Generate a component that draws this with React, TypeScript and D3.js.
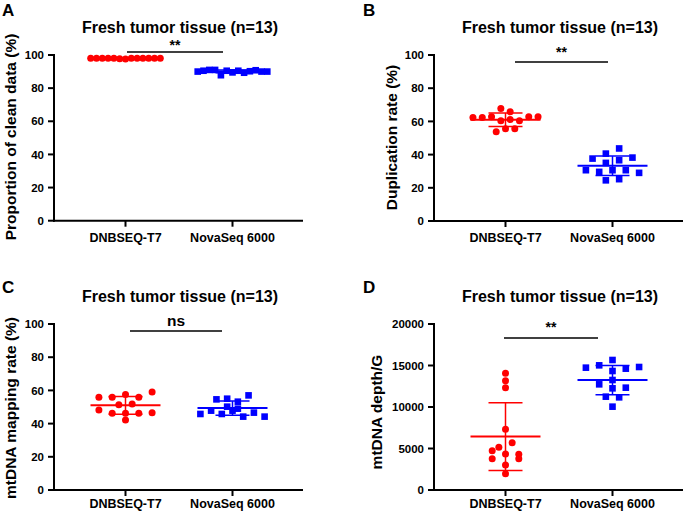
import React from "react";
import * as d3 from "d3";

// ---------- data ----------
const categories = ["DNBSEQ-T7", "NovaSeq 6000"];
const chartTitle = "Fresh tumor tissue (n=13)";
const panelLetters = ["A", "B", "C", "D"];
const yTitles = [
  "Proportion of clean data (%)",
  "Duplication rate (%)",
  "mtDNA mapping rate (%)",
  "mtDNA depth/G",
];
const sigLabels = ["**", "**", "ns", "**"];
const pctTicks = [0, 20, 40, 60, 80, 100];
const depthTicks = [0, 5000, 10000, 15000, 20000];

// A: proportion of clean data (%)
const cleanDnb = [98, 98, 98, 98, 98, 97.8, 97.6, 98, 98, 98, 98, 98, 98];
const cleanNova = [90, 90.5, 91, 91, 87.8, 90.5, 89.5, 90.5, 89.3, 90.2, 90.8, 90, 90];
// B: duplication rate (%)
const dupDnb = [62.4, 62.4, 67.8, 62.8, 60.4, 53.7, 61.2, 55.5, 65.8, 60.4, 55.5, 62.8, 62.8];
const dupNova = [37.6, 30.6, 40.6, 35.0, 29.6, 24.5, 43.7, 36.6, 30.6, 38.2, 30.6, 25.2, 29.0];
// C: mtDNA mapping rate (%)
const mapDnb = [55.8, 48.2, 55.8, 51.4, 46.2, 57.6, 51.8, 46.2, 42.2, 55.8, 46.2, 59.0, 46.6];
const mapNova = [45.8, 47.8, 54.6, 45.8, 55.0, 47.8, 53.2, 50.2, 44.2, 57.0, 46.6, 49.0, 44.2];
// D: mtDNA depth/G
const depthDnb = [14056, 13173, 12329, 7309, 4739, 3775, 5141, 4337, 1968, 3012, 5703, 3775, 4297];
const depthNova = [14739, 15020, 12731, 11245, 14337, 12249, 10040, 11165, 15663, 14618, 13253, 12329, 14819];

// ---------- layout / style ----------
const RED = "#FF0000";
const BLUE = "#0000FF";
const FONT = "'Liberation Sans', Arial, Helvetica, sans-serif";

type Panel = {
  dnb: number[];
  nova: number[];
  ticks: number[];
  x0: number;
  xEnd: number;
  yTop: number;
  yBottom: number;
  stepDnb: number;
  stepNova: number;
  rowPx: number;
  sig: [number, number, number];
  sigLabelY: number;
  sigFont: number;
  letterY: number;
  titleY: number;
  yTitleX: number;
  yTitleY: number;
  xLabelDy: number;
};

const panels: Panel[] = [
  {
    dnb: cleanDnb, nova: cleanNova, ticks: pctTicks,
    x0: 54, xEnd: 303, yTop: 55, yBottom: 220.7,
    stepDnb: 5.8, stepNova: 5.8, rowPx: 20,
    sig: [127, 223, 52], sigLabelY: 50, sigFont: 14,
    letterY: 16, titleY: 33, yTitleX: 15.5, yTitleY: 137, xLabelDy: 21.3,
  },
  {
    dnb: dupDnb, nova: dupNova, ticks: pctTicks,
    x0: 434, xEnd: 683, yTop: 55, yBottom: 221,
    stepDnb: 9.3, stepNova: 13.3, rowPx: 6.5,
    sig: [515, 608, 62], sigLabelY: 56.5, sigFont: 14,
    letterY: 16, titleY: 33, yTitleX: 397, yTitleY: 137.5, xLabelDy: 20.7,
  },
  {
    dnb: mapDnb, nova: mapNova, ticks: pctTicks,
    x0: 54, xEnd: 303, yTop: 324, yBottom: 490,
    stepDnb: 13.3, stepNova: 10.7, rowPx: 6.5,
    sig: [130, 222, 331], sigLabelY: 325.5, sigFont: 15.5,
    letterY: 293, titleY: 302, yTitleX: 15.5, yTitleY: 408, xLabelDy: 18.3,
  },
  {
    dnb: depthDnb, nova: depthNova, ticks: depthTicks,
    x0: 434, xEnd: 683, yTop: 324, yBottom: 490,
    stepDnb: 13.3, stepNova: 13.3, rowPx: 6.5,
    sig: [504, 598, 338], sigLabelY: 331.5, sigFont: 14,
    letterY: 293, titleY: 302, yTitleX: 382, yTitleY: 412, xLabelDy: 18.3,
  },
];

// rows of near-equal values are spread symmetrically around the category centre
function swarmSlots(values: number[], y: (v: number) => number, rowPx: number): number[] {
  const order = d3.range(values.length).sort((a, b) => values[a] - values[b]);
  const rows: number[][] = [];
  let cur: number[] = [];
  let startY = 0;
  for (const i of order) {
    const py = y(values[i]);
    if (cur.length && Math.abs(py - startY) > rowPx) {
      rows.push(cur);
      cur = [];
    }
    if (!cur.length) startY = py;
    cur.push(i);
  }
  if (cur.length) rows.push(cur);
  const slots = new Array(values.length).fill(0);
  rows.forEach((r) => {
    r.sort((a, b) => a - b);
    r.forEach((i, k) => (slots[i] = k - (r.length - 1) / 2));
  });
  return slots;
}

function Group({ values, cx, y, step, rowPx, color, square }: any) {
  const slots = swarmSlots(values, y, rowPx);
  const m = d3.mean(values) as number;
  const sd = d3.deviation(values) as number;
  const s = 6.6;
  return (
    <g>
      {values.map((v: number, i: number) => {
        const px = cx + slots[i] * step;
        const py = y(v);
        return square ? (
          <rect key={i} x={px - s / 2} y={py - s / 2} width={s} height={s} fill={color} />
        ) : (
          <circle key={i} cx={px} cy={py} r={3.5} fill={color} />
        );
      })}
      <line x1={cx - 35} x2={cx + 35} y1={y(m)} y2={y(m)} stroke={color} strokeWidth={2} />
      <line x1={cx} x2={cx} y1={y(m - sd)} y2={y(m + sd)} stroke={color} strokeWidth={1.5} />
      <line x1={cx - 17} x2={cx + 17} y1={y(m - sd)} y2={y(m - sd)} stroke={color} strokeWidth={1.5} />
      <line x1={cx - 17} x2={cx + 17} y1={y(m + sd)} y2={y(m + sd)} stroke={color} strokeWidth={1.5} />
    </g>
  );
}

function PanelView({ p, idx }: { p: Panel; idx: number }) {
  const maxV = p.ticks[p.ticks.length - 1];
  const y = d3.scaleLinear().domain([0, maxV]).range([p.yBottom, p.yTop]);
  const x = d3.scalePoint<string>().domain(categories).range([p.x0 + 71.5, p.x0 + 178.5]);
  const left = idx % 2 === 0;
  const titleCx = (p.x0 + p.xEnd) / 2 + 1.5;
  return (
    <g fontFamily={FONT} fontWeight="bold">
      <text x={left ? 2 : 363} y={p.letterY} fontSize={17}>{panelLetters[idx]}</text>
      <text x={titleCx} y={p.titleY} fontSize={16} textAnchor="middle">{chartTitle}</text>
      <text
        transform={`translate(${p.yTitleX},${p.yTitleY}) rotate(-90)`}
        fontSize={15.5}
        textAnchor="middle"
      >
        {yTitles[idx]}
      </text>
      {/* y axis */}
      <line x1={p.x0} x2={p.x0} y1={p.yTop - 1} y2={p.yBottom + 1} stroke="#000" strokeWidth={2} />
      {p.ticks.map((t) => (
        <g key={t}>
          <line x1={p.x0 - 6} x2={p.x0} y1={y(t)} y2={y(t)} stroke="#000" strokeWidth={2} />
          <text x={p.x0 - 10} y={y(t)} dy="0.36em" fontSize={11.5} textAnchor="end">
            {String(t)}
          </text>
        </g>
      ))}
      {/* x axis */}
      <line x1={p.x0 - 1} x2={p.xEnd} y1={p.yBottom} y2={p.yBottom} stroke="#000" strokeWidth={2} />
      {categories.map((c) => (
        <g key={c}>
          <line x1={x(c)} x2={x(c)} y1={p.yBottom} y2={p.yBottom + 6} stroke="#000" strokeWidth={2} />
          <text x={x(c)} y={p.yBottom + p.xLabelDy} fontSize={12.5} textAnchor="middle">{c}</text>
        </g>
      ))}
      {/* significance */}
      <line x1={p.sig[0]} x2={p.sig[1]} y1={p.sig[2]} y2={p.sig[2]} stroke="#000" strokeWidth={1.5} />
      <text x={(p.sig[0] + p.sig[1]) / 2} y={p.sigLabelY} fontSize={p.sigFont} textAnchor="middle">
        {sigLabels[idx]}
      </text>
      <Group values={p.dnb} cx={x(categories[0])} y={y} step={p.stepDnb} rowPx={p.rowPx} color={RED} square={false} />
      <Group values={p.nova} cx={x(categories[1])} y={y} step={p.stepNova} rowPx={p.rowPx} color={BLUE} square={true} />
    </g>
  );
}

export default function App() {
  return (
    <svg
      width={685}
      height={514}
      viewBox="0 0 685 514"
      style={{ position: "absolute", left: 0, top: 0, background: "#fff" }}
    >
      <rect width={685} height={514} fill="#fff" />
      {panels.map((p, i) => (
        <PanelView key={i} p={p} idx={i} />
      ))}
    </svg>
  );
}
